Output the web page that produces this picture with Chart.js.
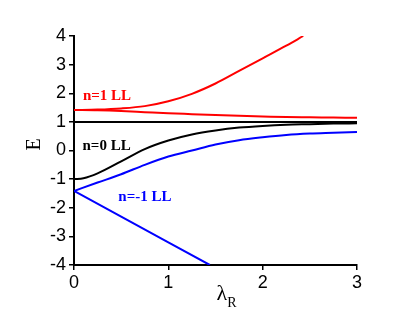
<!DOCTYPE html>
<html><head><meta charset="utf-8">
<script src="https://cdn.jsdelivr.net/npm/chart.js@4/dist/chart.umd.min.js"></script>
<style>html,body{margin:0;padding:0;background:#fff;} canvas{display:block;}</style>
</head><body>
<canvas id="c" width="415" height="318"></canvas>
<script>
// ---- data ----
const lambdaGrid = [0,0.25,0.5,0.75,1,1.25,1.5,1.75,2,2.25,2.5,2.75,3];
const n1UpperLambda = [0,0.25,0.5,0.75,1,1.25,1.5,1.75,2,2.25,2.43];
const n1Upper = [1.414,1.43,1.47,1.55,1.72,1.98,2.34,2.78,3.22,3.66,4.0];
const n1Lower = [1.414,1.405,1.38,1.34,1.30,1.27,1.24,1.21,1.19,1.17,1.16,1.15,1.14];
const n0FlatLambda = [0,3];
const n0Flat = [1,1];
const n0LowerLambda = [0,0.1,0.25,0.5,0.75,1,1.25,1.5,1.75,2,2.25,2.5,2.75,3];
const n0Lower = [-1,-0.97,-0.80,-0.38,0.05,0.35,0.56,0.70,0.80,0.86,0.90,0.92,0.94,0.95];
const nm1Upper = [-1.414,-1.12,-0.83,-0.50,-0.21,0.0,0.21,0.36,0.46,0.54,0.59,0.62,0.65];
const nm1LowerLambda = [0,0.5,1,1.44];
const nm1Lower = [-1.414,-2.31,-3.21,-4.0];
const xTicks = [0,1,2,3];
const yTicks = [-4,-3,-2,-1,0,1,2,3,4];
const labelTexts = ['n=1 LL','n=0 LL','n=-1 LL'];
const labelLambda = [0.095,0.09,0.47];
const labelE = [1.77,0.02,-1.75];
const labelColors = ['#ff0000','#000000','#0000ff'];
const xTitle = 'λ', xTitleSub = 'R', yTitle = 'E';

const pts = (xs, ys) => xs.map((x,i)=>({x, y: ys[i]}));
const RED='#ff0000', BLUE='#0000ff', BLACK='#000000';
const ds = (data, color, mono=true) => ({data, borderColor: color, borderWidth: 2, pointRadius: 0,
  showLine: true, fill: false, cubicInterpolationMode: mono ? 'monotone' : 'default', tension: 0});

const annot = {
  id: 'annot',
  afterDraw(chart) {
    const {ctx, scales:{x, y}, chartArea} = chart;
    ctx.save();
    ctx.font = 'bold 15px "Liberation Serif", serif';
    ctx.textBaseline = 'alphabetic';
    ctx.textAlign = 'left';
    labelTexts.forEach((t,i)=>{
      ctx.fillStyle = labelColors[i];
      ctx.fillText(t, x.getPixelForValue(labelLambda[i]), y.getPixelForValue(labelE[i]));
    });
    // y title
    ctx.fillStyle = BLACK;
    ctx.save();
    ctx.translate(35, (chartArea.top + chartArea.bottom)/2 - 6);
    ctx.rotate(-Math.PI/2);
    ctx.textAlign = 'center';
    ctx.textBaseline = 'middle';
    ctx.font = '20px "Liberation Serif", serif';
    ctx.fillText(yTitle, 0, 0);
    ctx.restore();
    // x title with subscript
    const cx = (chartArea.left + chartArea.right)/2 + 1;
    ctx.font = '22px "Liberation Serif", serif';
    ctx.textAlign = 'left';
    ctx.fillText(xTitle, cx, chartArea.bottom + 35);
    const w = ctx.measureText(xTitle).width;
    ctx.font = '14px "Liberation Serif", serif';
    ctx.fillText(xTitleSub, cx + w, chartArea.bottom + 42);
    ctx.restore();
  }
};

new Chart(document.getElementById('c'), {
  type: 'scatter',
  data: { datasets: [
    ds(pts(n1UpperLambda, n1Upper), RED),
    ds(pts(lambdaGrid, n1Lower), RED),
    ds(pts(n0FlatLambda, n0Flat), BLACK),
    ds(pts(n0LowerLambda, n0Lower), BLACK),
    ds(pts(lambdaGrid, nm1Upper), BLUE),
    ds(pts(nm1LowerLambda, nm1Lower), BLUE, false)
  ]},
  options: {
    responsive: false, animation: false, devicePixelRatio: 1,
    layout: { padding: { left: 0, top: 36, right: 58, bottom: 0 } },
    plugins: { legend: { display: false }, tooltip: { enabled: false } },
    scales: {
      x: {
        type: 'linear', min: 0, max: 3,
        afterBuildTicks: s => { s.ticks = xTicks.map(v=>({value:v})); },
        afterFit: s => { s.height = 53; },
        grid: { drawOnChartArea: false, drawTicks: true, tickLength: 5, color: BLACK, lineWidth: 1.5 },
        border: { display: true, color: BLACK, width: 2 },
        ticks: { color: BLACK, padding: 2, font: { family: '"Liberation Sans", Arial, sans-serif', size: 18 } }
      },
      y: {
        type: 'linear', min: -4, max: 4,
        afterBuildTicks: s => { s.ticks = yTicks.map(v=>({value:v})); },
        afterFit: s => { s.width = 74; },
        grid: { drawOnChartArea: false, drawTicks: true, tickLength: 5, color: BLACK, lineWidth: 1.5 },
        border: { display: true, color: BLACK, width: 2 },
        ticks: { color: BLACK, padding: 3, font: { family: '"Liberation Sans", Arial, sans-serif', size: 18 } }
      }
    }
  },
  plugins: [annot]
});
</script>
</body></html>
